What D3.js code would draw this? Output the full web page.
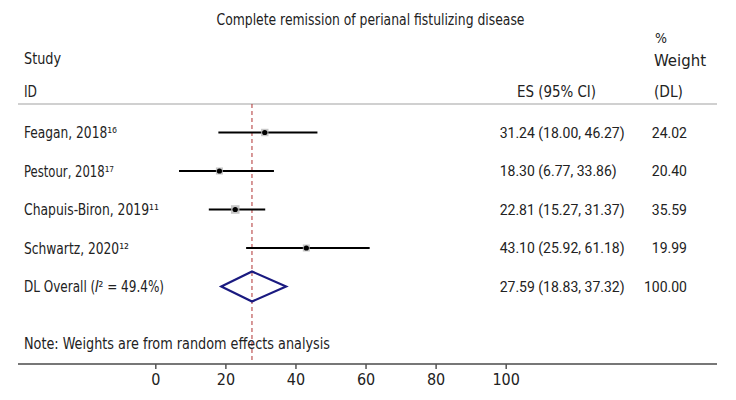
<!DOCTYPE html>
<html><head><meta charset="utf-8">
<script src="https://cdn.jsdelivr.net/npm/d3@7"></script>
<style>body{margin:0;background:#fff}svg{display:block}</style>
</head><body><svg id="c" width="736" height="400"></svg>
<script>
const studies = ["Feagan, 2018", "Pestour, 2018", "Chapuis-Biron, 2019", "Schwartz, 2020"];
const refs = ["¹⁶", "¹⁷", "¹¹", "¹²"];
const es = [31.24, 18.30, 22.81, 43.10];
const lo = [18.00, 6.77, 15.27, 25.92];
const hi = [46.27, 33.86, 31.37, 61.18];
const weights = [24.02, 20.40, 35.59, 19.99];
const overall = {es: 27.59, lo: 18.83, hi: 37.32, w: 100.00, i2: "49.4%"};
const ticks = [0, 20, 40, 60, 80, 100];

const svg = d3.select("#c");
const x = d3.scaleLinear().domain([0, 100]).range([155.3, 505.7]);
const rows = d3.range(studies.length + 1);
const y = d3.scalePoint().domain(rows).range([132.5, 286.5]);
const LF = "'Liberation Sans Narrow','DejaVu Sans Condensed','Roboto',sans-serif";
const NF = "Roboto, sans-serif";
const col = "#222";

function txt(t, xx, yy, size, opts = {}) {
  const el = svg.append("text").attr("x", xx).attr("y", yy).text(t)
    .attr("font-family", opts.font || LF).attr("font-size", size).attr("fill", col);
  if (opts.len) el.attr("textLength", opts.len).attr("lengthAdjust", "spacingAndGlyphs");
  if (opts.anchor) el.attr("text-anchor", opts.anchor);
  return el;
}

// headers
txt("Complete remission of perianal fistulizing disease", 216.5, 25, 15, {len: 308});
txt("Study", 24, 64, 16, {len: 37});
txt("ID", 24, 96.5, 16, {len: 13});
txt("%", 655, 42.5, 14, {len: 12});
txt("Weight", 654, 66, 16, {len: 52});
txt("(DL)", 654, 96.5, 16, {len: 29});
txt("ES (95% CI)", 517, 96.5, 16, {len: 79});

// header rule and dashed line
svg.append("line").attr("x1", 18).attr("x2", 717).attr("y1", 104).attr("y2", 104)
  .attr("stroke", "#d0d0d0").attr("stroke-width", 2);
svg.append("line").attr("x1", x(overall.es)).attr("x2", x(overall.es)).attr("y1", 104).attr("y2", 364)
  .attr("stroke", "#b03232").attr("stroke-width", 1).attr("stroke-dasharray", "4,3");

const labelEnds = [117, 114, 159, 129];

studies.forEach((s, i) => {
  const yy = y(i);
  txt(s + refs[i], 24, yy + 5.5, 16, {len: labelEnds[i] - 24});
  svg.append("line").attr("x1", x(lo[i])).attr("x2", x(hi[i])).attr("y1", yy).attr("y2", yy)
    .attr("stroke", "#000").attr("stroke-width", 2);
  const sz = 5 + weights[i] / 10;
  svg.append("rect").attr("x", x(es[i]) - sz / 2).attr("y", yy - sz / 2).attr("width", sz).attr("height", sz)
    .attr("fill", "#b8b8b8").attr("opacity", 0.8);
  svg.append("circle").attr("cx", x(es[i])).attr("cy", yy).attr("r", 2.6).attr("fill", "#000");
  txt(`${es[i].toFixed(2)} (${lo[i].toFixed(2)}, ${hi[i].toFixed(2)})`, 499.7, yy + 5, 14, {font: NF});
  txt(weights[i].toFixed(2), 687, yy + 5, 14, {font: NF, anchor: "end"});
});

// overall
const oy = y(studies.length);
txt("DL Overall (\u{1D43C}² = " + overall.i2 + ")", 24, oy + 5.5, 16, {len: 140});
const dPts = [[x(overall.lo), oy], [x(overall.es), oy - 15], [x(overall.hi), oy], [x(overall.es), oy + 15]];
svg.append("path").attr("d", d3.line()(dPts) + "Z").attr("fill", "none")
  .attr("stroke", "#1a1a80").attr("stroke-width", 2.2);
txt(`${overall.es.toFixed(2)} (${overall.lo.toFixed(2)}, ${overall.hi.toFixed(2)})`, 499.7, oy + 5, 14, {font: NF});
txt(overall.w.toFixed(2), 687, oy + 5, 14, {font: NF, anchor: "end"});

// note
txt("Note: Weights are from random effects analysis", 24, 349, 16, {len: 306});

// axis
svg.append("line").attr("x1", 18).attr("x2", 717).attr("y1", 364).attr("y2", 364)
  .attr("stroke", "#777").attr("stroke-width", 2);
const ax = svg.append("g").attr("transform", "translate(0,364)")
  .call(d3.axisBottom(x).tickValues(ticks).tickSize(5).tickPadding(5).tickFormat(d3.format("d")));
ax.select(".domain").remove();
ax.selectAll(".tick line").attr("stroke", "#555").attr("stroke-width", 1.5);
ax.selectAll(".tick text").attr("font-family", LF).attr("font-size", 16).attr("fill", col);
</script></body></html>
